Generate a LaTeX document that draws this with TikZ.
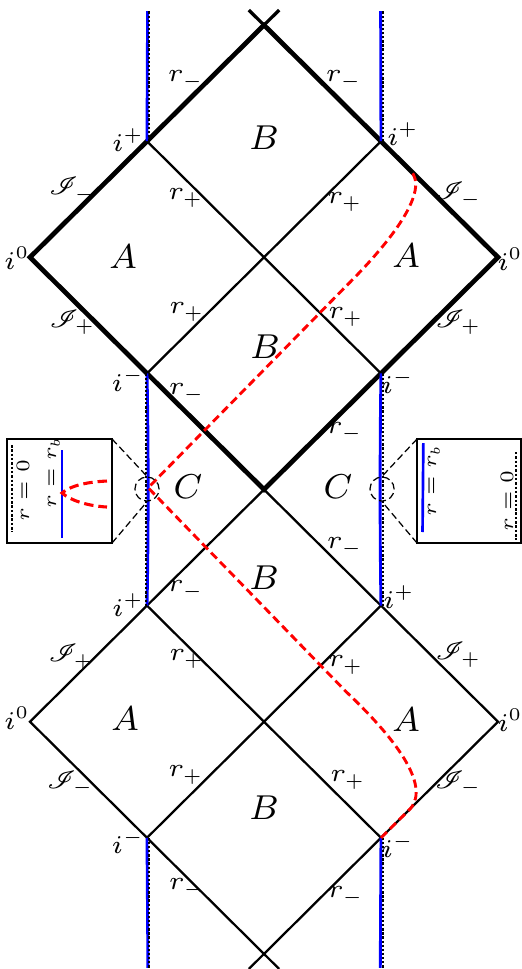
\RequirePackage{fix-cm}
\documentclass[tikz,border=0pt]{standalone}
\IfFileExists{mathrsfs.sty}{\usepackage{mathrsfs}}{\newcommand{\mathscr}{\mathcal}}
\begin{document}
\begin{tikzpicture}[x=1cm,y=0.99231cm,
  thinl/.style={line width=0.55pt},
  thickl/.style={line width=1.15pt, line join=miter},
  arml/.style={line width=0.8pt},
  lab/.style={inner sep=0pt, font=\fontsize{6.2}{7}\selectfont},
  reg/.style={inner sep=0pt, font=\fontsize{8.4}{10}\selectfont},
  ins/.style={inner sep=0pt, font=\fontsize{4.6}{5.5}\selectfont, rotate=90},
  geo/.style={red, line width=0.7pt, dash pattern=on 2pt off 1.1pt},
  geoi/.style={red, line width=0.75pt, dash pattern=on 2.3pt off 1.2pt},
  rbl/.style={blue, line width=0.7pt},
  rbi/.style={blue, line width=0.65pt},
  rzero/.style={black, line width=0.45pt, dash pattern=on 0.55pt off 0.45pt},
  rzeroi/.style={black, line width=0.6pt, dash pattern=on 0.6pt off 0.45pt},
  zoomln/.style={black, line width=0.3pt, dash pattern=on 1.7pt off 0.9pt},
  boxl/.style={draw=black, line width=0.35pt, fill=white}
]
\useasboundingbox (-2.2564,-4.1300) rectangle (2.1966,4.2162);
% key points
\coordinate (T) at (0,4);
\coordinate (Bt) at (0,-4);
\coordinate (O) at (0,0);
\coordinate (iPL) at (-1,3);
\coordinate (iPR) at (1,3);
\coordinate (i0L) at (-2,2);
\coordinate (i0R) at (2,2);
\coordinate (iML) at (-1,1);
\coordinate (iMR) at (1,1);
\coordinate (jPL) at (-1,-1);
\coordinate (jPR) at (1,-1);
\coordinate (j0L) at (-2,-2);
\coordinate (j0R) at (2,-2);
\coordinate (jML) at (-1,-3);
\coordinate (jMR) at (1,-3);
\coordinate (xtl) at (-0.13,4.13);
\coordinate (xtr) at (0.13,4.13);
\coordinate (xbl) at (-0.13,-4.13);
\coordinate (xbr) at (0.13,-4.13);
% lower diagram (thin)
\draw[thinl] (O) -- (j0L) -- (Bt) -- (j0R) -- cycle;
\draw[thinl] (jPL) -- (jMR);
\draw[thinl] (jML) -- (jPR);
\draw[thinl] (Bt) -- (xbl);
\draw[thinl] (Bt) -- (xbr);
% upper interior (thin)
\draw[thinl] (iPL) -- (iMR);
\draw[thinl] (iML) -- (iPR);
% upper outline (thick)
\draw[thickl] (T) -- (i0L) -- (O) -- (i0R) -- cycle;
\draw[arml] (T) -- (xtl);
\draw[arml] (T) -- (xtr);
% r = r_b curves (blue) and r = 0 (dotted)
\coordinate (bTL) at (-0.995,4.12);
\coordinate (bTR) at (0.997,4.12);
\coordinate (bBL) at (-0.992,-4.12);
\coordinate (bBR) at (0.994,-4.12);
\draw[rbl] (iPL) -- (bTL);
\draw[rbl] (iPR) -- (bTR);
\draw[rbl] (iML) .. controls (-0.987,0.4) and (-0.987,-0.4) .. (jPL);
\draw[rbl] (iMR) .. controls (0.99,0.4) and (0.99,-0.4) .. (jPR);
\draw[rbl] (jML) -- (bBL);
\draw[rbl] (jMR) -- (bBR);
\draw[rzero] (-0.982,3) -- (-0.982,4.12);
\draw[rzero] (1.016,3) -- (1.016,4.12);
\draw[rzero] (-1.007,1) -- (-1.007,-1);
\draw[rzero] (1.015,1) -- (1.015,-1);
\draw[rzero] (-0.98,-3) -- (-0.98,-4.12);
\draw[rzero] (1.015,-3) -- (1.015,-4.12);
% geodesic (red dashed)
\coordinate (cusp) at (-0.99,0.015);
\coordinate (gl) at (0.7,-1.74);
\coordinate (gu) at (0.7,1.75);
\coordinate (gs) at (1.25,-2.75);
\coordinate (ge) at (1.25,2.75);
\draw[geo] (jMR) -- (gs) .. controls (1.43,-2.54) and (1.1,-2.12) .. (gl) -- (cusp) -- (gu) .. controls (1.1,2.15) and (1.42,2.58) .. (ge);
% zoom circles
\node[draw=black, circle, minimum size=0.206cm, inner sep=0pt, zoomln] (zl) at (-1,0.004) {};
\node[draw=black, circle, minimum size=0.206cm, inner sep=0pt, zoomln] (zr) at (1.009,0.004) {};
% inset boxes
\coordinate (lbNE) at (-1.299,0.435);
\coordinate (lbSE) at (-1.299,-0.461);
\coordinate (rbNW) at (1.308,0.435);
\coordinate (rbSW) at (1.308,-0.461);
\draw[zoomln] (lbNE) -- (zl.north);
\draw[zoomln] (lbSE) -- (zl.south);
\draw[zoomln] (rbNW) -- (zr.north);
\draw[zoomln] (rbSW) -- (zr.south);
\draw[boxl] (-2.197,-0.461) rectangle (lbNE);
\draw[boxl] (rbSW) rectangle (2.197,0.435);
% left inset contents
\draw[rzeroi] (-2.154,0.383) -- (-2.154,-0.366);
\node[ins] (l0) at (-2.06,-0.01) {$r=0$};
\draw[rbi] (-1.726,0.340) -- (-1.726,-0.418);
\node[ins] (lb) at (-1.795,0.14) {$r=r_b$};
\coordinate (icusp) at (-1.726,-0.03);
\draw[geoi] (-1.342,0.073) .. controls (-1.52,0.065) and (-1.66,0.03) .. (icusp) .. controls (-1.66,-0.09) and (-1.52,-0.14) .. (-1.342,-0.151);
% right inset contents
\draw[rbi] (1.362,0.400) -- (1.355,-0.366);
\node[ins] (rb) at (1.453,0.073) {$r=r_b$};
\draw[rzeroi] (2.154,0.323) -- (2.154,-0.435);
\node[ins] (r0) at (2.077,-0.099) {$r=0$};
% labels upper
\node[lab] (a1) at (-0.667,3.527) {$r_-$};
\node[lab] (a2) at (0.684,3.527) {$r_-$};
\node[lab] (a3) at (-1.162,3.011) {$i^+$};
\node[lab] (a4) at (1.188,3.063) {$i^+$};
\node[reg] (a5) at (0,3.028) {$B$};
\node[lab] (a6) at (-1.641,2.580) {$\mathscr{I}_-$};
\node[lab] (a7) at (1.658,2.537) {$\mathscr{I}_-$};
\node[lab] (a8) at (-0.667,2.511) {$r_+$};
\node[lab] (a9) at (0.692,2.476) {$r_+$};
\node[reg] (a10) at (-1.205,2.003) {$A$};
\node[reg] (a11) at (1.214,2.011) {$A$};
\node[lab] (a12) at (-2.111,1.99) {$i^0$};
\node[lab] (a13) at (2.103,1.986) {$i^0$};
\node[lab] (a14) at (-0.658,1.529) {$r_+$};
\node[lab] (a15) at (0.701,1.486) {$r_+$};
\node[lab] (a16) at (-1.641,1.443) {$\mathscr{I}_+$};
\node[lab] (a17) at (1.658,1.443) {$\mathscr{I}_+$};
\node[reg] (a18) at (0.0085,1.227) {$B$};
\node[lab] (a19) at (-1.162,0.945) {$i^-$};
\node[lab] (a20) at (1.145,0.926) {$i^-$};
\node[lab] (a21) at (-0.658,0.831) {$r_-$};
\node[lab] (a22) at (0.692,0.495) {$r_-$};
\node[reg] (a23) at (-0.650,0.022) {$C$};
\node[reg] (a24) at (0.632,0.022) {$C$};
% labels lower
\node[lab] (b1) at (0.692,-0.495) {$r_-$};
\node[reg] (b2) at (0,-0.762) {$B$};
\node[lab] (b3) at (-0.667,-0.866) {$r_-$};
\node[lab] (b4) at (1.154,-0.926) {$i^+$};
\node[lab] (b5) at (-1.162,-0.995) {$i^+$};
\node[lab] (b6) at (-0.658,-1.460) {$r_+$};
\node[lab] (b7) at (0.701,-1.512) {$r_+$};
\node[lab] (b8) at (-1.650,-1.442) {$\mathscr{I}_+$};
\node[lab] (b9) at (1.658,-1.425) {$\mathscr{I}_+$};
\node[reg] (b10) at (-1.188,-1.977) {$A$};
\node[reg] (b11) at (1.214,-1.986) {$A$};
\node[lab] (b12) at (-2.111,-1.968) {$i^0$};
\node[lab] (b13) at (2.103,-1.986) {$i^0$};
\node[lab] (b14) at (-0.667,-2.459) {$r_+$};
\node[lab] (b15) at (0.718,-2.502) {$r_+$};
\node[lab] (b16) at (-1.658,-2.528) {$\mathscr{I}_-$};
\node[lab] (b17) at (1.658,-2.528) {$\mathscr{I}_-$};
\node[reg] (b18) at (0,-2.743) {$B$};
\node[lab] (b19) at (-1.162,-3.035) {$i^-$};
\node[lab] (b20) at (1.145,-3.071) {$i^-$};
\node[lab] (b21) at (-0.658,-3.432) {$r_-$};
\node[lab] (b22) at (0.701,-3.501) {$r_-$};
\end{tikzpicture}
\end{document}
